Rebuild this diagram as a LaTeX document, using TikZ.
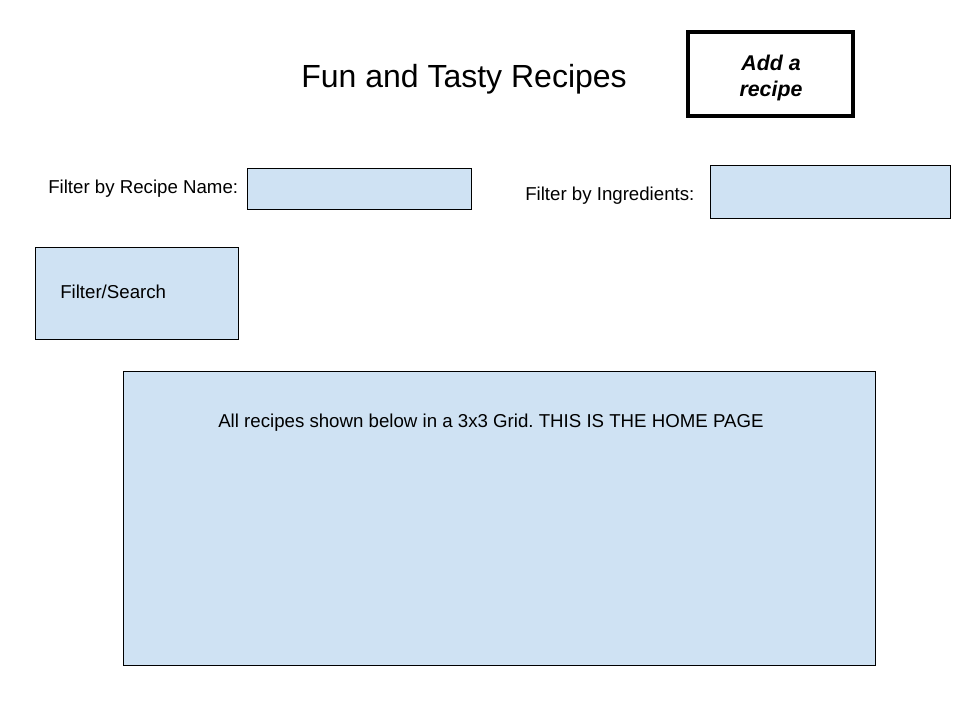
\documentclass[tikz,border=0pt]{standalone}
\usepackage{fontspec}
\setmainfont{Liberation Sans}
\usepackage{tikz}
\frenchspacing
\definecolor{fieldblue}{RGB}{207,226,243}
\tikzset{
  field/.style={draw=black, fill=fieldblue, line width=0.75pt},
  btn/.style={draw=black, line width=3pt},
  lbl/.style={inner sep=0pt, font=\fontsize{14}{17}\selectfont},
}

\begin{document}
\begin{tikzpicture}[x=0.75pt,y=0.75pt,yscale=-1,xscale=1]
        \useasboundingbox (0,0) rectangle (960,720);

        %Shape: Rectangle [id:addbox]
        \draw [btn] (687.5,32.5) rectangle (852.5,116.5);
        %Shape: Rectangle [id:namebox]
        \draw [field] (247,169) rectangle (471,210);
        %Shape: Rectangle [id:ingrbox]
        \draw [field] (710,166) rectangle (950,219);
        %Shape: Rectangle [id:searchbox]
        \draw [field] (35,248) rectangle (238,339);
        %Shape: Rectangle [id:gridbox]
        \draw [field] (123,371) rectangle (875,665);

        % Text Node
        \node (title) at (464,87.5) [anchor=base, inner sep=0pt, font=\fontsize{24}{28}\selectfont] {Fun and Tasty Recipes};
        % Text Node
        \node (add) at (771,78) [align=center, inner sep=0pt, font=\fontsize{16}{19.5}\selectfont\bfseries\itshape] {Add a\\recipe};
        % Text Node
        \node (namelbl) at (48,194) [lbl, anchor=base west] {Filter by Recipe Name:};
        % Text Node
        \node (ingrlbl) at (525,201) [lbl, anchor=base west] {Filter by Ingredients:};
        % Text Node
        \node (search) at (60,298) [lbl, anchor=base west] {Filter/Search};
        % Text Node
        \node (grid) at (218,427) [lbl, anchor=base west] {All recipes shown below in a 3x3 Grid. THIS IS THE HOME PAGE};

\end{tikzpicture}
\end{document}
